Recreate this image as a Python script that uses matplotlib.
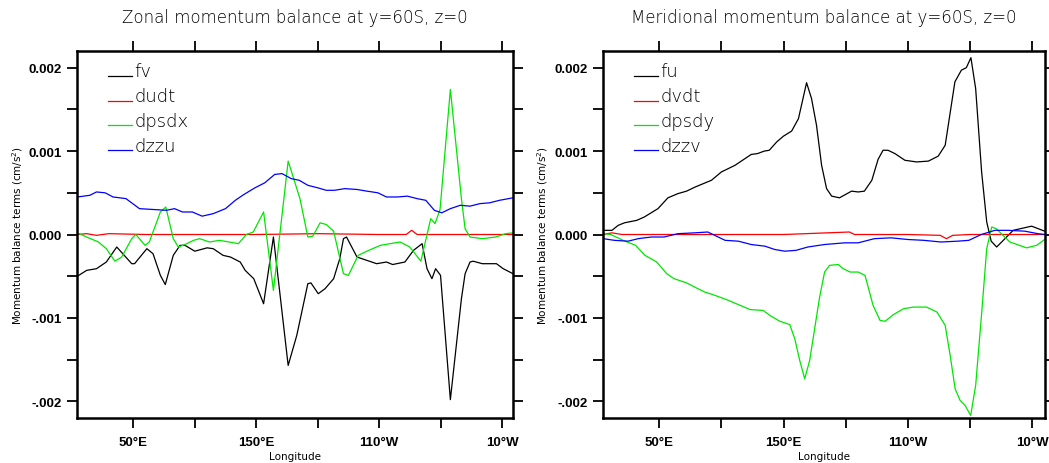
import matplotlib
matplotlib.use("Agg")
import matplotlib.pyplot as plt
import numpy as np
from matplotlib.ticker import FixedLocator, MultipleLocator
from matplotlib.legend_handler import HandlerLine2D
from matplotlib.lines import Line2D

# ---------------- data ----------------
# Left panel: zonal momentum balance
lon_fv = [4.5, 12, 20, 28, 36.5, 48.7, 51, 61, 66, 72, 76, 82.5, 88, 92, 100, 110, 115, 123, 129, 137,
          141, 148, 156, 164, 176, 183, 192, 194.5, 200.5, 206, 213, 218, 221, 223.5, 232, 240, 248, 256,
          261, 271, 278, 285, 289, 293, 296, 300, 308, 317, 320, 324, 326.5, 334, 345.5, 351, 359]
fv = [-0.00050, -0.00043, -0.00041, -0.00033, -0.00015, -0.00035, -0.00035, -0.00017, -0.00023, -0.00049,
      -0.00060, -0.00025, -0.00013, -0.00013, -0.00020, -0.00016, -0.00017, -0.00025, -0.00027, -0.00033,
      -0.00043, -0.00053, -0.00083, -0.00003, -0.00157, -0.00121, -0.00059, -0.00058, -0.00071, -0.00065,
      -0.00053, -0.00029, -0.00005, -0.00003, -0.00027, -0.00031, -0.00035, -0.00033, -0.00036, -0.00033,
      -0.00019, -0.00011, -0.00041, -0.00053, -0.00041, -0.00049, -0.00198, -0.00077, -0.00047, -0.00033,
      -0.00032, -0.00035, -0.00035, -0.00041, -0.00047]

lon_dudt = [4.5, 12, 20, 30, 60, 150, 200, 250, 272, 276.5, 281, 300, 359]
dudt = [0.0, 0.00001, -0.00001, 0.00001, 0.0, 0.0, 0.00001, 0.0, 0.0, 0.00005, 0.0, 0.0, 0.0]

lon_dpsdx = [4.5, 12, 21.6, 28, 35, 40.5, 48.7, 52, 59.5, 63, 72, 76.4, 82.5, 86.6, 92, 99, 104, 112,
             120, 128, 135.5, 142, 147.6, 156, 164, 176, 185.6, 192, 196, 202, 207, 213, 221, 225, 233,
             240, 251, 267, 275, 284, 292, 295.5, 299.6, 308, 317, 320, 324, 334, 345, 353, 359]
dpsdx = [0.00002, -0.00003, -0.00009, -0.00017, -0.00032, -0.00027, -0.00005, 0.0, -0.00013, -0.00009,
         0.00027, 0.00033, -0.00005, -0.00015, -0.00012, -0.00007, -0.00005, -0.00009, -0.00007, -0.00009,
         -0.00011, 0.0, 0.00003, 0.00027, -0.00067, 0.00088, 0.00043, -0.00003, -0.00002, 0.00014,
         0.00012, 0.00004, -0.00047, -0.00049, -0.00025, -0.00020, -0.00013, -0.00009, -0.00015, -0.00032,
         0.00019, 0.00013, 0.00030, 0.00174, 0.00043, 0.00007, -0.00003, -0.00005, -0.00003, 0.00001, 0.00002]

lon_dzzu = [4.5, 14.6, 20, 27, 33.5, 44, 55, 66, 77, 83.5, 90, 98, 106, 115, 125, 133, 140, 149, 157,
            165, 171, 178.5, 185, 192, 200, 207, 213.6, 222, 232, 240, 249, 256, 265, 273, 281, 288, 295,
            301, 308, 316, 324, 332, 340, 348, 359]
dzzu = [0.00045, 0.00047, 0.00051, 0.00050, 0.00045, 0.00043, 0.00031, 0.00030, 0.00029, 0.00031,
        0.00027, 0.00027, 0.00022, 0.00025, 0.00031, 0.00041, 0.00048, 0.00056, 0.00062, 0.00072,
        0.00073, 0.00067, 0.00065, 0.00059, 0.00056, 0.00053, 0.00053, 0.00055, 0.00054, 0.00052,
        0.00050, 0.00045, 0.00045, 0.00046, 0.00043, 0.00041, 0.00029, 0.00026, 0.00031, 0.00035,
        0.00034, 0.00037, 0.00038, 0.00041, 0.00044]

# Right panel: meridional momentum balance
lon_fu = [5, 12, 17, 22, 32, 38, 49, 57, 65, 72, 79, 92, 100, 111, 116, 124, 129, 134.5, 138.5, 144.5,
          150, 156.5, 162, 168.5, 172.5, 176.5, 180.6, 184.6, 188.7, 195, 204.7, 210, 215, 221, 226, 230,
          234, 239.6, 247.6, 257, 266.5, 274.4, 280, 287.8, 293, 297, 300.7, 304.5, 309.3, 313.4, 317,
          321.4, 334.7, 349.5, 360]
fu = [0.00005, 0.00005, 0.00011, 0.00014, 0.00017, 0.00021, 0.00031, 0.00044, 0.00049, 0.00052, 0.00057,
      0.00065, 0.00075, 0.00083, 0.00088, 0.00096, 0.00097, 0.00100, 0.00101, 0.00111, 0.00118, 0.00124,
      0.00139, 0.00182, 0.00163, 0.00131, 0.00083, 0.00055, 0.00046, 0.00044, 0.00052, 0.00051, 0.00052,
      0.00065, 0.00090, 0.00101, 0.00101, 0.00097, 0.00089, 0.00087, 0.00088, 0.00094, 0.00107, 0.00183,
      0.00197, 0.00200, 0.00212, 0.00175, 0.00075, 0.00015, -0.00008, -0.00015, 0.00005, 0.00010, 0.00004]

lon_dvdt = [5, 12, 20, 60, 150, 203, 207, 250, 276, 281, 286, 300, 360]
dvdt = [0.0, 0.00002, 0.0, 0.0, 0.0, 0.00003, 0.0, 0.0, -0.00001, -0.00005, -0.00001, 0.0, 0.0]

lon_dpsdy = [5, 11, 21, 31, 38.5, 48, 56, 62, 72, 78.5, 86.6, 93, 104, 112, 123, 133.5, 140, 147, 155,
             159, 163, 167, 171, 175, 179, 183, 187, 194, 198, 203.5, 210, 215.5, 222, 227.6, 231.7,
             238.4, 246.5, 254.5, 265, 273.4, 280, 284, 288, 292, 296, 300.5, 304.5, 309.4, 313.4, 317.4,
             321, 332, 345.5, 353.5, 360]
dpsdy = [0.00001, 0.0, -0.00007, -0.00013, -0.00025, -0.00033, -0.00047, -0.00053, -0.00058, -0.00063,
         -0.00069, -0.00072, -0.00078, -0.00083, -0.00090, -0.00091, -0.00098, -0.00104, -0.00108,
         -0.00125, -0.00151, -0.00173, -0.00151, -0.00113, -0.00075, -0.00045, -0.00037, -0.00036,
         -0.00041, -0.00045, -0.00045, -0.00049, -0.00085, -0.00103, -0.00104, -0.00096, -0.00089,
         -0.00087, -0.00087, -0.00093, -0.00109, -0.00145, -0.00185, -0.00199, -0.00205, -0.00217,
         -0.00181, -0.00093, -0.00017, 0.00009, 0.00007, -0.00009, -0.00016, -0.00013, -0.00006]

lon_dzzv = [5, 14, 25, 33, 43.6, 54, 65, 78.7, 89, 103, 113.6, 124, 135, 143, 151, 160, 169.5, 183, 199,
            210, 223, 236.5, 250, 263, 276.6, 290, 299, 309, 320, 330.5, 344, 354.5, 360]
dzzv = [-0.00005, -0.00007, -0.00008, -0.00005, -0.00003, -0.00003, 0.00001, 0.00002, 0.00003, -0.00007,
        -0.00008, -0.00012, -0.00014, -0.00018, -0.00020, -0.00019, -0.00015, -0.00012, -0.00010,
        -0.00010, -0.00005, -0.00004, -0.00006, -0.00007, -0.00009, -0.00008, -0.00007, 0.0, 0.00005,
        0.00005, 0.00004, 0.00001, 0.0]

titles = ["Zonal momentum balance at y=60S, z=0", "Meridional momentum balance at y=60S, z=0"]
xtick_pos = [50, 100, 150, 200, 250, 300, 350]
xtick_lab = ["50°E", "", "150°E", "", "110°W", "", "10°W"]
ytick_pos = [0.002, 0.001, 0.0, -0.001, -0.002]
ytick_lab = ["0.002", "0.001", "0.000", "-.001", "-.002"]

GREEN = "#00e600"
TXT = "#000000"
panels = [
    dict(series=[(lon_fv, fv, "black", "fv"), (lon_dudt, dudt, "red", "dudt"),
                 (lon_dpsdx, dpsdx, GREEN, "dpsdx"), (lon_dzzu, dzzu, "blue", "dzzu")],
         pos=[0.0737, 0.0970, 0.4156, 0.7909], xlim=(4.4, 359.2)),
    dict(series=[(lon_fu, fu, "black", "fu"), (lon_dvdt, dvdt, "red", "dvdt"),
                 (lon_dpsdy, dpsdy, GREEN, "dpsdy"), (lon_dzzv, dzzv, "blue", "dzzv")],
         pos=[0.5745, 0.0970, 0.4216, 0.7909], xlim=(4.5, 360.2)),
]


class BaselineHandler(HandlerLine2D):
    """Legend line drawn at the text baseline (like the original legend)."""
    def create_artists(self, legend, orig_handle, xdescent, ydescent, width, height, fontsize, trans):
        arts = super().create_artists(legend, orig_handle, xdescent, ydescent, width, height,
                                      fontsize, trans)
        for a in arts:
            if isinstance(a, Line2D):
                n = len(a.get_xdata())
                a.set_ydata(np.full(n, -ydescent + 0.02 * height))
        return arts


fig = plt.figure(figsize=(10.49, 4.64), dpi=100)
for p, title in zip(panels, titles):
    ax = fig.add_axes(p["pos"])
    for x, y, c, lab in p["series"]:
        ax.plot(x, y, color=c, lw=0.9, label=lab)
    ax.set_xlim(*p["xlim"])
    ax.set_ylim(-0.0022, 0.0022)
    ax.xaxis.set_major_locator(FixedLocator(xtick_pos))
    ax.set_xticklabels(xtick_lab, fontfamily="Liberation Sans", fontweight="bold", fontsize=9.5)
    ax.yaxis.set_major_locator(FixedLocator(ytick_pos))
    ax.set_yticklabels(ytick_lab, fontfamily="Liberation Sans", fontweight="bold", fontsize=9.5)
    ax.yaxis.set_minor_locator(MultipleLocator(0.0005))
    ax.tick_params(which="both", direction="out", length=7, width=1.3,
                   top=True, right=True)
    ax.tick_params(axis="x", pad=6)
    ax.tick_params(axis="y", pad=4)
    for s in ax.spines.values():
        s.set_linewidth(1.8)
    ax.set_title(title, fontsize=12, color=TXT, pad=21, fontweight="light")
    ax.set_xlabel("Longitude", fontsize=7.5, color=TXT, labelpad=2)
    ax.set_ylabel("Momentum balance terms (cm/s$^2$)", fontsize=7.5, color=TXT, labelpad=3)
    leg = ax.legend(loc="upper left", bbox_to_anchor=(0.07, 0.97), frameon=False,
                    handlelength=1.35, handletextpad=0.12, labelspacing=0.38,
                    borderpad=0, borderaxespad=0, prop=dict(size=13, weight="light"),
                    handler_map={Line2D: BaselineHandler()})
    for t in leg.get_texts():
        t.set_color(TXT)

fig.savefig("out.png", dpi=100)
